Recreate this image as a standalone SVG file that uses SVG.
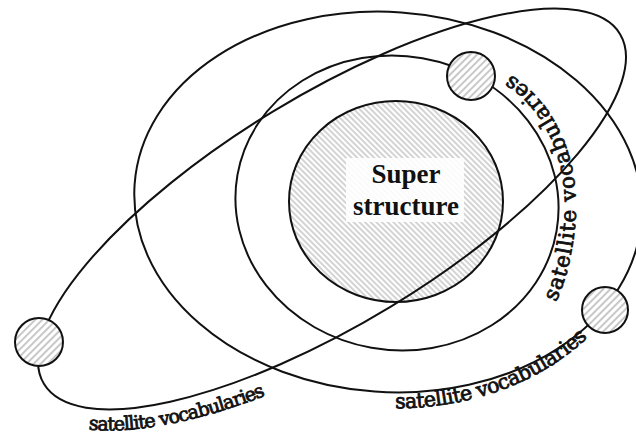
<svg xmlns="http://www.w3.org/2000/svg" width="636" height="436" viewBox="0 0 636 436">
<style>
.orbit{fill:none;stroke:#111;stroke-width:2}
.sat{stroke:#111;stroke-width:2}
.lbl{font-family:"DejaVu Serif","Liberation Serif",serif;fill:#111;stroke:#111;stroke-width:0.8}
.core-text{font-family:"Liberation Serif","Times New Roman",serif;font-weight:bold;font-size:27px;text-anchor:middle;fill:#111}
</style>
<defs>
<pattern id="hatchCore" patternUnits="userSpaceOnUse" width="4" height="8" patternTransform="rotate(-45)"><line x1="1" y1="0" x2="1" y2="8" stroke="#a8a8a8" stroke-width="1"/></pattern>
<pattern id="hatchSat" patternUnits="userSpaceOnUse" width="5" height="8" patternTransform="rotate(45)"><line x1="1" y1="0" x2="1" y2="8" stroke="#9a9a9a" stroke-width="1.1"/></pattern>
<path id="pBL" d="M-322.5,62 A361,138 0 0 0 -62.7,135.9"/>
<path id="pBR" d="M21.6,205.3 A258,206 0 0 0 223.4,103"/>
<path id="pR" d="M556,302 C568,277 576,240 576,205 C576,158 558,114 526,86 C514,76 500,68 484,60"/>
</defs>
<rect width="636" height="436" fill="#fff"/>
<g id="core">
<ellipse cx="396" cy="201.5" rx="107" ry="100.5" fill="#fff"/>
<ellipse cx="396" cy="201.5" rx="107" ry="100.5" fill="url(#hatchCore)" class="sat"/>
<rect x="346" y="158" width="118" height="64" fill="#fff" opacity="0.88"/>
<text class="core-text" x="406" y="183">Super</text>
<text class="core-text" x="406" y="215">structure</text>
</g>
<g id="orbits">
<ellipse class="orbit" cx="0" cy="0" rx="162" ry="147" transform="translate(397,203) rotate(10)"/>
<ellipse class="orbit" cx="0" cy="0" rx="254" ry="190" transform="translate(388,202) rotate(4)"/>
<ellipse class="orbit" cx="0" cy="0" rx="337" ry="114" transform="translate(332,209) rotate(-31.3)"/>
</g>
<g id="sat-top">
<circle cx="471" cy="76" r="24" fill="#fff"/>
<circle class="sat" cx="471" cy="76" r="24" fill="url(#hatchSat)"/>
</g>
<g id="sat-right">
<circle cx="605" cy="310" r="23" fill="#fff"/>
<circle class="sat" cx="605" cy="310" r="23" fill="url(#hatchSat)"/>
</g>
<g id="sat-left">
<circle cx="39" cy="342" r="24" fill="#fff"/>
<circle class="sat" cx="39" cy="342" r="24" fill="url(#hatchSat)"/>
</g>
<g id="labels">
<g transform="translate(332,209) rotate(-31.3)">
<text class="lbl" font-size="19"><textPath href="#pBL" textLength="182" lengthAdjust="spacing">satellite vocabularies</textPath></text>
</g>
<g transform="translate(388,202) rotate(4)">
<text class="lbl" font-size="20.5"><textPath href="#pBR" textLength="210" lengthAdjust="spacing">satellite vocabularies</textPath></text>
</g>
<text class="lbl" font-size="21.5"><textPath href="#pR" textLength="252" lengthAdjust="spacing">satellite vocabularies</textPath></text>
</g>
</svg>
